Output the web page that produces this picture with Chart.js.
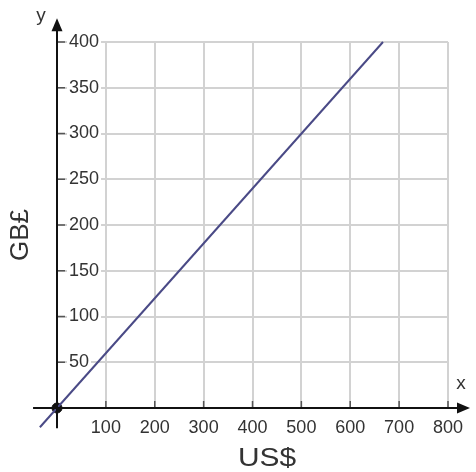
<!DOCTYPE html>
<html>
<head>
<meta charset="utf-8">
<script src="https://cdn.jsdelivr.net/npm/chart.js@4/dist/chart.umd.min.js"></script>
<style>
  html, body { margin: 0; padding: 0; background: #fff; }
  #wrap { width: 476px; height: 472px; }
</style>
</head>
<body>
<div id="wrap"><canvas id="c" width="476" height="472"></canvas></div>
<script>
// conversion line US$ -> GB£
const lineUSD = [-35, 667];
const lineGBP = [-21, 400];
const originPoint = [{ x: 0, y: 0 }];

const xTicks = [100, 200, 300, 400, 500, 600, 700, 800];
const yTicks = [50, 100, 150, 200, 250, 300, 350, 400];

const xAxisEnds = [-49, 845];   // drawn x axis extent (in US$)
const yAxisEnds = [-22, 426];   // drawn y axis extent (in GB£)

const txt = '#333';
const font = '"Liberation Sans", Arial, sans-serif';

// axes with arrows, small tick marks, axis names
const axesPlugin = {
    id: 'axes',
    afterDatasetsDraw(chart) {
        const { ctx, scales: { x, y } } = chart;
        const x0 = x.getPixelForValue(0), y0 = y.getPixelForValue(0);
        ctx.save();
        // tick marks
        ctx.strokeStyle = '#555'; ctx.lineWidth = 1.5;
        for (const v of xTicks) {
            const px = x.getPixelForValue(v);
            ctx.beginPath(); ctx.moveTo(px, y0); ctx.lineTo(px, y0 - 7); ctx.stroke();
        }
        for (const v of yTicks) {
            const py = y.getPixelForValue(v);
            ctx.beginPath(); ctx.moveTo(x0, py); ctx.lineTo(x0 + 8, py); ctx.stroke();
        }
        // axis lines
        const xl = x.getPixelForValue(xAxisEnds[0]), xr = x.getPixelForValue(xAxisEnds[1]);
        const yb = y.getPixelForValue(yAxisEnds[0]), yt = y.getPixelForValue(yAxisEnds[1]);
        ctx.strokeStyle = '#111'; ctx.fillStyle = '#111'; ctx.lineWidth = 2;
        ctx.beginPath(); ctx.moveTo(xl, y0); ctx.lineTo(xr - 8, y0); ctx.stroke();
        ctx.beginPath(); ctx.moveTo(x0, yb); ctx.lineTo(x0, yt + 8); ctx.stroke();
        ctx.beginPath(); ctx.moveTo(xr, y0); ctx.lineTo(xr - 13, y0 - 5.5); ctx.lineTo(xr - 13, y0 + 5.5); ctx.closePath(); ctx.fill();
        ctx.beginPath(); ctx.moveTo(x0, yt); ctx.lineTo(x0 - 5.5, yt + 13); ctx.lineTo(x0 + 5.5, yt + 13); ctx.closePath(); ctx.fill();
        // names
        ctx.fillStyle = txt; ctx.textAlign = 'center'; ctx.textBaseline = 'middle';
        ctx.font = '19px ' + font;
        ctx.fillText('x', 461, 384);
        ctx.fillText('y', 41, 16);
        ctx.font = '26px ' + font;
        ctx.save();
        ctx.translate(267, 459); ctx.scale(1.15, 1);
        ctx.fillText('US$', 0, 0);
        ctx.restore();
        ctx.translate(21, 235); ctx.rotate(-Math.PI / 2);
        ctx.fillText('GB£', 0, 0);
        ctx.restore();
    }
};

new Chart(document.getElementById('c'), {
    type: 'line',
    data: {
        datasets: [
            {
                data: lineUSD.map((v, i) => ({ x: v, y: lineGBP[i] })),
                borderColor: '#4a4a86', borderWidth: 2, pointRadius: 0, fill: false, clip: false
            },
            {
                type: 'scatter', data: originPoint,
                backgroundColor: '#111', borderColor: '#111', pointRadius: 5, clip: false
            }
        ]
    },
    options: {
        responsive: false, animation: false,
        layout: { padding: { top: 42, right: 28, bottom: 0, left: 0 } },
        plugins: { legend: { display: false }, tooltip: { enabled: false } },
        scales: {
            x: {
                type: 'linear', min: 0, max: 800,
                afterBuildTicks: s => { s.ticks = xTicks.map(v => ({ value: v })); },
                afterFit: s => { s.height = 64; },
                grid: { color: '#d2d2d2', lineWidth: 2, drawTicks: false },
                border: { display: false },
                ticks: { color: txt, padding: 9, font: { family: font, size: 18 } }
            },
            y: {
                type: 'linear', min: 0, max: 400,
                afterBuildTicks: s => { s.ticks = yTicks.map(v => ({ value: v })); },
                afterFit: s => { s.width = 57; },
                grid: { color: '#d2d2d2', lineWidth: 2, drawTicks: false },
                border: { display: false },
                ticks: {
                    mirror: true, color: txt, padding: 12, font: { family: font, size: 18 },
                    showLabelBackdrop: true, backdropColor: '#fff', backdropPadding: { top: 0, bottom: 0, left: 2, right: 2 }
                }
            }
        }
    },
    plugins: [axesPlugin]
});
</script>
</body>
</html>
